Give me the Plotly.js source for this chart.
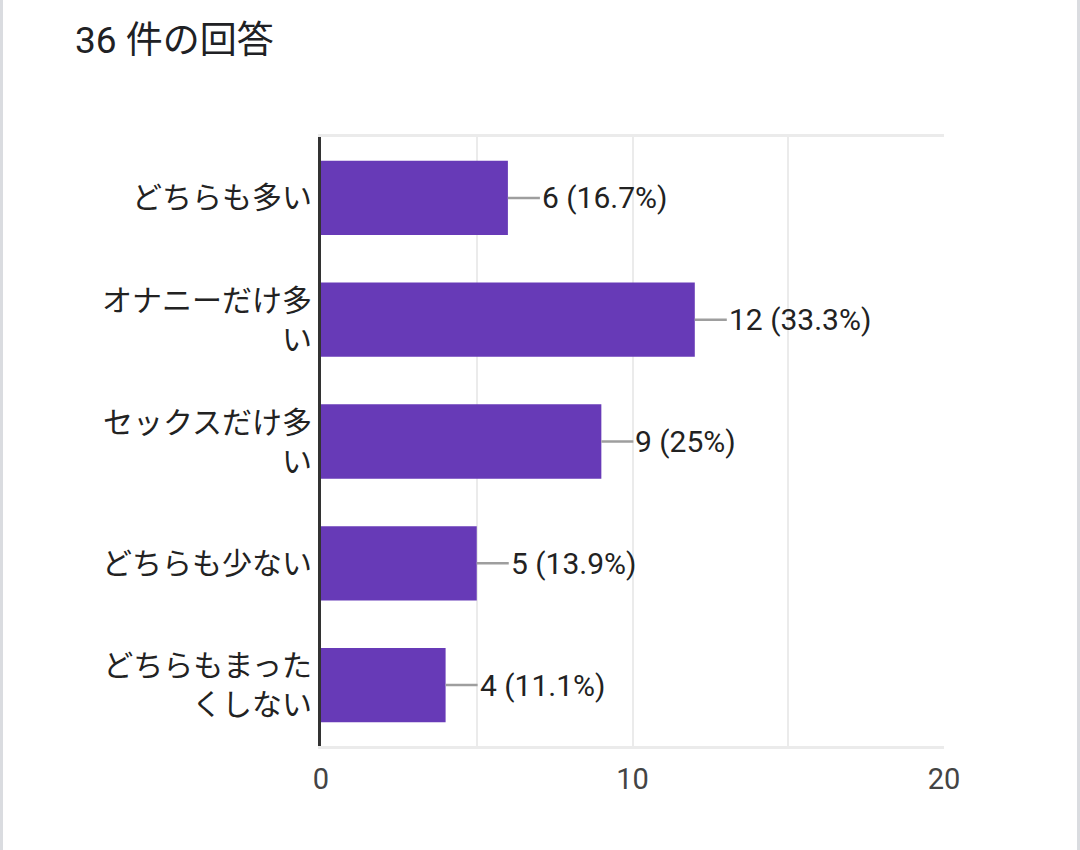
<!DOCTYPE html>
<html>
<head>
<meta charset="utf-8">
<script src="https://cdn.plot.ly/plotly-3.0.1.min.js"></script>
<style>
  html, body { margin: 0; padding: 0; background: #fff; }
  #wrap { position: relative; width: 1080px; height: 850px; }
  #wrap:before, #wrap:after {
    content: ""; position: absolute; top: 0; bottom: 0; width: 3px;
    background: #dadce0; z-index: 5;
  }
  #wrap:before { left: 0; }
  #wrap:after { right: 0; }
  #chart { width: 1080px; height: 850px; }
</style>
</head>
<body>
<div id="wrap"><div id="chart"></div></div>
<script>
// answers and counts, top to bottom
var categories = [
  "どちらも多い",
  "オナニーだけ多<br>い",
  "セックスだけ多<br>い",
  "どちらも少ない",
  "どちらもまった<br>くしない"
];
var counts = [6, 12, 9, 5, 4];
var percents = ["16.7%", "33.3%", "25%", "13.9%", "11.1%"];
var xTicks = [0, 10, 20];

var fontFam = "Roboto, 'Noto Sans CJK JP', sans-serif";

var trace = {
  type: "bar",
  orientation: "h",
  x: counts,
  y: categories,
  marker: {color: "#673ab7"},
  hoverinfo: "none"
};

// value labels with a short connector line from the bar end
var notes = counts.map(function (v, i) {
  return {
    x: v, y: categories[i],
    xref: "x", yref: "y",
    text: v + " (" + percents[i] + ")",
    showarrow: true,
    arrowhead: 0,
    arrowwidth: 2.5,
    arrowcolor: "#9e9e9e",
    standoff: 0,
    ax: 32, ay: 0,
    xanchor: "left",
    font: {family: fontFam, size: 30, color: "#222"}
  };
});

var layout = {
  width: 1080,
  height: 850,
  margin: {l: 321, r: 136, t: 137, b: 104},
  paper_bgcolor: "#fff",
  plot_bgcolor: "#fff",
  font: {family: fontFam, size: 30, color: "#222"},
  showlegend: false,
  bargap: 0.39,
  title: {
    text: "36 件の回答",
    font: {family: fontFam, size: 37, color: "#202124"},
    xref: "container", yref: "container",
    x: 75 / 1080, xanchor: "left",
    y: 1 - 40 / 850, yanchor: "middle"
  },
  xaxis: {
    range: [0, 20],
    tickvals: xTicks,
    ticks: "",
    showgrid: true,
    gridcolor: "#ebebeb",
    gridwidth: 2,
    minor: {dtick: 5, showgrid: true, gridcolor: "#ebebeb", gridwidth: 2},
    showline: true,
    linecolor: "#ebebeb",
    linewidth: 3,
    mirror: true,
    zeroline: false,
    fixedrange: true,
    ticklabelstandoff: 5,
    tickfont: {family: fontFam, size: 29, color: "#444"}
  },
  yaxis: {
    autorange: "reversed",
    ticks: "",
    showgrid: false,
    showline: true,
    linecolor: "#333",
    linewidth: 3,
    zeroline: false,
    fixedrange: true,
    ticklabelstandoff: 0,
    tickfont: {family: fontFam, size: 30, color: "#222"}
  },
  annotations: notes
};

Plotly.newPlot("chart", [trace], layout, {displayModeBar: false, staticPlot: true});
</script>
</body>
</html>
